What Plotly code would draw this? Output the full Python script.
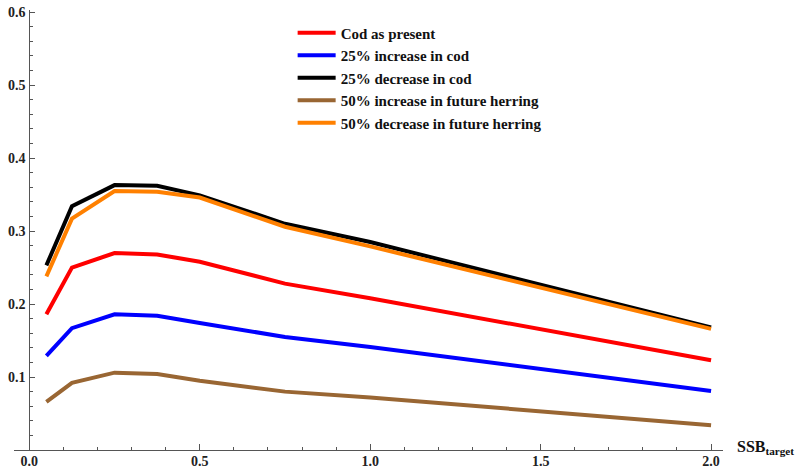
import plotly.graph_objects as go

ssb = [0.05, 0.125, 0.25, 0.375, 0.5, 0.75, 1.0, 2.0]
cod_present = [0.186, 0.250, 0.270, 0.268, 0.258, 0.228, 0.208, 0.123]
cod_up25 = [0.129, 0.167, 0.186, 0.184, 0.174, 0.155, 0.141, 0.081]
cod_down25 = [0.253, 0.334, 0.363, 0.362, 0.349, 0.310, 0.285, 0.168]
herring_up50 = [0.066, 0.092, 0.106, 0.104, 0.095, 0.080, 0.072, 0.034]
herring_down50 = [0.238, 0.317, 0.355, 0.354, 0.346, 0.306, 0.279, 0.166]

names = ["Cod as present", "25% increase in cod", "25% decrease in cod",
         "50% increase in future herring", "50% decrease in future herring"]
series = [cod_present, cod_up25, cod_down25, herring_up50, herring_down50]
colors = ["#FF0000", "#0000FF", "#000000", "#996633", "#FF8000"]

x_ticks = [0.0, 0.5, 1.0, 1.5, 2.0]
x_ticklabels = ["0.0", "0.5", "1.0", "1.5", "2.0"]
y_ticks = [0.1, 0.2, 0.3, 0.4, 0.5, 0.6]
y_ticklabels = ["0.1", "0.2", "0.3", "0.4", "0.5", "0.6"]

fig = go.Figure()
for n, s, c in zip(names, series, colors):
    fig.add_trace(go.Scatter(x=ssb, y=s, mode="lines", name=n,
                             line=dict(color=c, width=4)))

W, H = 801, 471
ml, mr, mt, mb = 14, 78, 10, 21
xr = [-0.045, 2.035]
yr = [0.0, 0.603]
ypos = (0 - xr[0]) / (xr[1] - xr[0])

tickfont = dict(family="Liberation Serif", size=14, color="#222", weight="bold")
fig.update_layout(
    width=W, height=H,
    margin=dict(l=ml, r=mr, t=mt, b=mb, pad=0, autoexpand=False),
    plot_bgcolor="white", paper_bgcolor="white",
    showlegend=True,
    legend=dict(x=0.393, y=0.985, xanchor="left", yanchor="top",
                bgcolor="rgba(0,0,0,0)",
                font=dict(family="Liberation Serif", size=15, color="#111", weight="bold"),
                tracegroupgap=0, itemwidth=38),
    xaxis=dict(range=xr, showgrid=False, zeroline=False, automargin=False,
               showline=True, linecolor="#555", linewidth=1,
               tickvals=x_ticks, ticktext=x_ticklabels,
               ticks="inside", ticklen=6, tickcolor="#555",
               ticklabeloverflow="allow",
               minor=dict(dtick=0.1, tick0=0, ticks="inside", ticklen=3, tickcolor="#555"),
               tickfont=tickfont),
    yaxis=dict(range=yr, showgrid=False, zeroline=False, automargin=False,
               anchor="free", position=ypos,
               showline=True, linecolor="#555", linewidth=1,
               tickvals=y_ticks, ticktext=y_ticklabels,
               ticks="inside", ticklen=5, tickcolor="#555",
               ticklabeloverflow="allow",
               minor=dict(dtick=0.02, tick0=0, ticks="inside", ticklen=3, tickcolor="#555"),
               tickfont=tickfont),
)
fig.update_xaxes(ticklabelstandoff=-2)
fig.update_yaxes(ticklabelstandoff=1)

fig.add_annotation(x=1, xref="paper", xanchor="left", xshift=12,
                   y=0, yref="paper", yanchor="middle", yshift=3,
                   text="<b>SSB<sub>target</sub></b>", showarrow=False,
                   font=dict(family="Liberation Serif", size=16, color="#111"))

fig.write_html("out.html", config={"displayModeBar": False},
               post_script="document.body.style.margin='0';document.body.style.overflow='hidden';")
